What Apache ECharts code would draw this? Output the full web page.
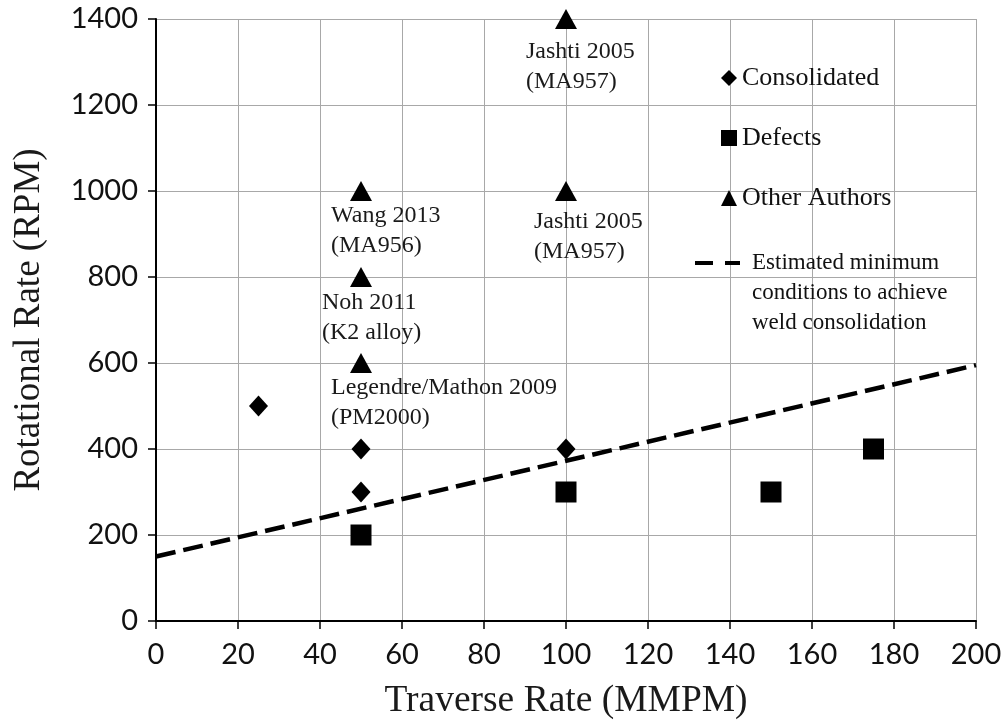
<!DOCTYPE html>
<html>
<head>
<meta charset="utf-8">
<script src="https://cdn.jsdelivr.net/npm/echarts@6/dist/echarts.min.js"></script>
<style>
  html, body { margin: 0; padding: 0; background: #fff; }
  #chart { width: 1005px; height: 725px; }
</style>
</head>
<body>
<div id="chart"></div>
<script>
// Traverse rate (MMPM) vs rotational rate (RPM) for friction stir welds
const consolidated = [[25, 500], [50, 400], [50, 300], [100, 400]];
const defects = [[50, 200], [100, 300], [150, 300], [175, 400]];
const otherAuthors = [[50, 1000], [50, 800], [50, 600], [100, 1400], [100, 1000]];
const otherAuthorLabels = [
  'Wang 2013\n(MA956)',
  'Noh 2011\n(K2 alloy)',
  'Legendre/Mathon 2009\n(PM2000)',
  'Jashti 2005\n(MA957)',
  'Jashti 2005\n(MA957)'
];
// label offsets under each triangle
const otherAuthorLabelOffsets = [[-30, 0], [-39, 1], [-30, 0], [-40, 8], [-32, 6]];
const minimumLine = [[0, 150], [200, 595]];
const xTicks = { min: 0, max: 200, interval: 20 };
const yTicks = { min: 0, max: 1400, interval: 200 };

const SERIF = '"Liberation Serif", "Times New Roman", serif';
const SANS = 'Lato, "Open Sans", sans-serif';
const LINE_NAME = 'Estimated minimum\nconditions to achieve\nweld consolidation';

const chart = echarts.init(document.getElementById('chart'), null, { renderer: 'canvas' });

const axisCommon = {
  axisLine: { show: true, onZero: false, lineStyle: { color: '#000', width: 2 } },
  axisTick: { show: true, inside: false, length: 8, lineStyle: { color: '#000', width: 1.5 } },
  splitLine: { show: true, lineStyle: { color: '#a8a8a8', width: 1 } },
  axisLabel: { color: '#111', fontFamily: SANS, fontSize: 29, formatter: v => String(v) },
  nameLocation: 'middle',
  nameMoveOverlap: false
};

chart.setOption({
  animation: false,
  backgroundColor: '#fff',
  grid: { left: 156, right: 29, top: 19, bottom: 103, containLabel: false },
  xAxis: Object.assign({}, axisCommon, {
    type: 'value',
    min: xTicks.min, max: xTicks.max, interval: xTicks.interval,
    name: 'Traverse Rate (MMPM)',
    nameGap: 61,
    nameTextStyle: { color: '#1a1a1a', fontFamily: SERIF, fontSize: 37.5 },
    axisLabel: Object.assign({}, axisCommon.axisLabel, { margin: 19 })
  }),
  yAxis: Object.assign({}, axisCommon, {
    type: 'value',
    min: yTicks.min, max: yTicks.max, interval: yTicks.interval,
    name: 'Rotational Rate (RPM)',
    nameGap: 108,
    nameTextStyle: { color: '#1a1a1a', fontFamily: SERIF, fontSize: 37 },
    axisLabel: Object.assign({}, axisCommon.axisLabel, { margin: 18 })
  }),
  legend: [
    {
      orient: 'vertical',
      left: 721,
      top: 63,
      padding: 0,
      itemWidth: 16,
      itemHeight: 16,
      itemGap: 30,
      selectedMode: false,
      data: ['Consolidated', 'Defects', 'Other Authors'],
      itemStyle: { opacity: 1 },
      textStyle: { color: '#111', fontFamily: SERIF, fontSize: 26, lineHeight: 30 }
    },
    {
      orient: 'vertical',
      left: 695,
      top: 188,
      padding: 0,
      itemWidth: 52,
      itemHeight: 4,
      selectedMode: false,
      // two dashes, with empty room before the text
      data: [{ name: LINE_NAME, icon: 'path://M0,0h18v4h-18z M30,0h15v4h-15z M52,0L52,4' }],
      itemStyle: { color: '#000' },
      // blank lines keep the dash level with the first line of the text
      formatter: name => '\n\n' + name,
      textStyle: { color: '#111', fontFamily: SERIF, fontSize: 23, lineHeight: 30 }
    }
  ],
  series: [
    {
      name: LINE_NAME,
      type: 'line',
      data: minimumLine,
      symbol: 'none',
      z: 1,
      lineStyle: { color: '#000', width: 4.5, type: [20, 8] },
      itemStyle: { color: '#000' }
    },
    {
      name: 'Consolidated',
      type: 'scatter',
      data: consolidated,
      symbol: 'diamond',
      symbolSize: [19, 21],
      itemStyle: { color: '#000', opacity: 1 },
      z: 3
    },
    {
      name: 'Defects',
      type: 'scatter',
      data: defects,
      symbol: 'rect',
      symbolSize: 21,
      itemStyle: { color: '#000', opacity: 1 },
      z: 3
    },
    {
      name: 'Other Authors',
      type: 'scatter',
      symbol: 'triangle',
      symbolSize: [22, 20],
      itemStyle: { color: '#000', opacity: 1 },
      z: 3,
      data: otherAuthors.map((p, i) => ({
        value: p,
        label: {
          show: true,
          formatter: otherAuthorLabels[i],
          position: 'bottom',
          distance: 0,
          align: 'left',
          verticalAlign: 'top',
          offset: otherAuthorLabelOffsets[i],
          color: '#1a1a1a',
          fontFamily: SERIF,
          fontSize: 24,
          lineHeight: 30
        }
      }))
    }
  ]
});
</script>
</body>
</html>
